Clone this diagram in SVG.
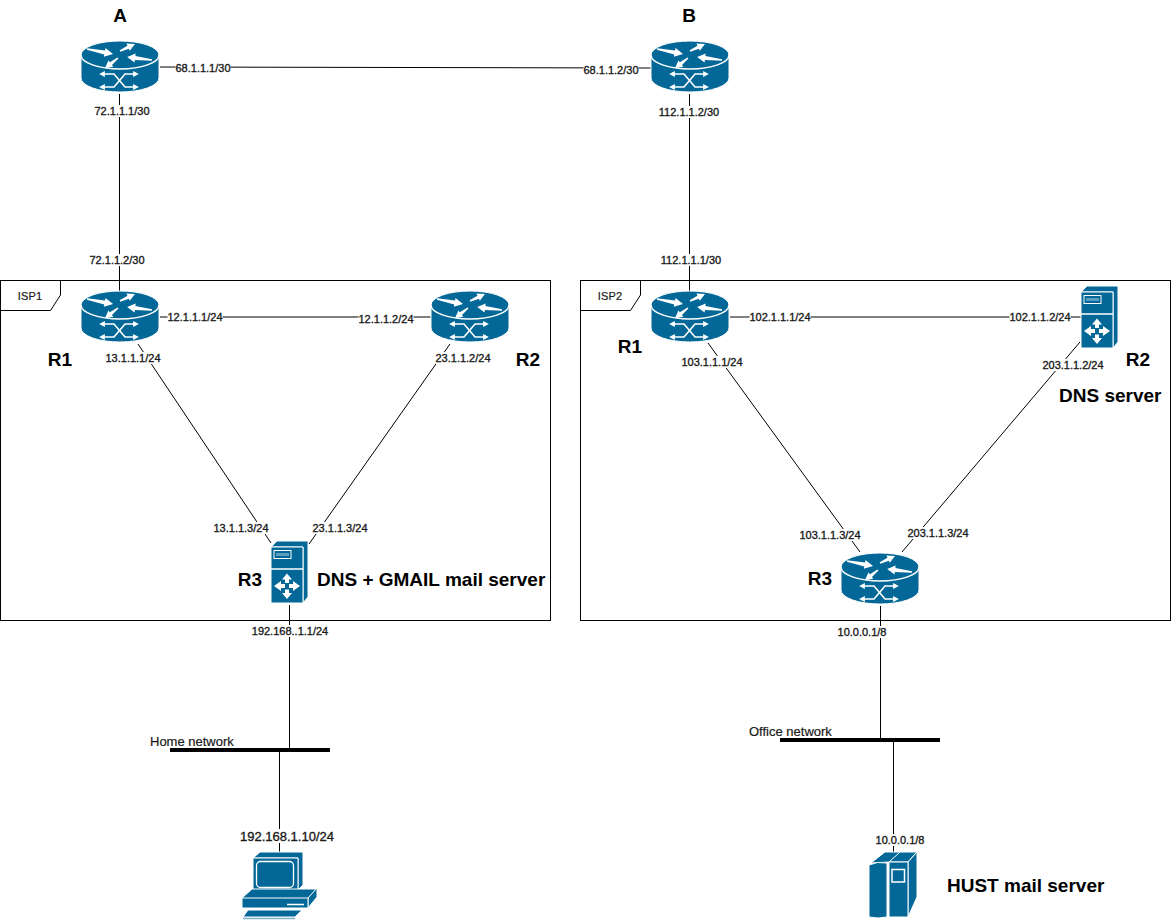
<svg xmlns="http://www.w3.org/2000/svg" width="1171" height="922" viewBox="0 0 1171 922">
<style>
text{font-family:"Liberation Sans",Arial,sans-serif;fill:#1a1a1a}
.l{font-size:11px;text-anchor:middle;stroke:#1a1a1a;stroke-width:.35px;dominant-baseline:central}
.big{font-size:13px}
.bg{fill:#fff;stroke:none}
.t{font-size:19px;font-weight:bold;fill:#000;dominant-baseline:central}
.m{text-anchor:middle}
.n{font-size:11px;dominant-baseline:central;stroke:#1a1a1a;stroke-width:.2px}
.o{font-size:13px}
.c{fill:none;stroke:#000;stroke-width:1}
.bus{fill:none;stroke:#000;stroke-width:4}
.box{fill:#fff;stroke:#000;stroke-width:1}
.b{fill:#036897;stroke:#fff;stroke-width:1}
.w{fill:none;stroke:#fff;stroke-width:1.5}
.wf{fill:#fff;stroke:none}
.x{fill:none;stroke:#fff;stroke-width:1.6;marker-start:url(#hs);marker-end:url(#hs)}
</style>
<defs>
<marker id="hs" viewBox="0 0 10 10" refX="5" refY="5" markerWidth="3.600" markerHeight="3.600" orient="auto-start-reverse"><path d="M0,0L10,5L0,10Z" fill="#fff"/></marker>
<g id="router">
<path class="b" d="M0,14V37A39,14 0 0 0 78,37V14A39,14 0 0 0 0,14Z"/>
<path class="w" d="M0,14A39,14 0 0 0 78,14"/>
<path class="wf" transform="translate(6,8) rotate(11)" d="M0,-.8L18,-2V-4.500L26.500,0L18,4.500V2L0,.8Z"/>
<path class="wf" transform="translate(39,10) rotate(-25)" d="M0,-.7L9,-1.700V-4L16.500,0L9,4V1.700L0,.7Z"/>
<path class="wf" transform="translate(71,19) rotate(187)" d="M0,-.8L17,-2V-4.500L25,0L17,4.500V2L0,.8Z"/>
<path class="wf" transform="translate(37,17) rotate(142)" d="M0,-.7L9,-1.700V-4L16.500,0L9,4V1.700L0,.7Z"/>
<path class="x" d="M21,33H33L44,46H55"/>
<path class="x" d="M21,46H33L44,33H55"/>
</g>
<g id="server">
<path class="b" d="M0,6L6,0H37V56L32,62V6Z"/>
<path class="b" d="M0,6H32V62H0Z"/>
<path class="w" d="M0,28H32"/>
<rect x="3" y="9.500" width="17" height="8" fill="none" stroke="#fff" stroke-width="1"/>
<rect x="5" y="12" width="13" height="3" fill="#5a9fc0"/>
<path class="wf" d="M16,32.500L21,38.500H18V42H14V38.500H11Z"/>
<path class="wf" d="M16,58L21,52H18V48.500H14V52H11Z"/>
<path class="wf" d="M3,45L10,40V43H14V47H10V50Z"/>
<path class="wf" d="M29,45L22,40V43H18V47H22V50Z"/>
</g>
</defs>

<g id="isp1">
<rect class="box" x="0.500" y="280.500" width="550" height="340"/>
<path class="c" d="M0.500,310.500H50.500L60.500,295V280.500"/>
<text class="n m" x="30" y="296" style="letter-spacing:.2px">ISP1</text>
</g>
<g id="isp2">
<rect class="box" x="580.500" y="280.500" width="590" height="340"/>
<path class="c" d="M580.500,310.500H630.500L640.500,295V280.500"/>
<text class="n m" x="610" y="296" style="letter-spacing:.2px">ISP2</text>
</g>

<g id="connectors">
<path class="c" d="M160,67L651,68"/>
<path class="c" d="M119.500,94V292"/>
<path class="c" d="M689.500,94V292"/>
<path class="c" d="M160,317L431,317"/>
<path class="c" d="M138,344L271,543"/>
<path class="c" d="M450,344L309,544"/>
<path class="c" d="M289.500,605V749"/>
<path class="c" d="M279.500,750V852"/>
<path class="c" d="M730,317H1081"/>
<path class="c" d="M708,343L860,552"/>
<path class="c" d="M1080,342L902,552"/>
<path class="c" d="M880.500,606V740"/>
<path class="c" d="M893.500,740V852"/>
<path class="bus" d="M170,750H330"/>
<path class="bus" d="M780,740H940"/>
<rect class="bg" x="175.500" y="62" width="55" height="12"/><text class="l" x="203" y="68">68.1.1.1/30</text>
<rect class="bg" x="583.500" y="64" width="55" height="12"/><text class="l" x="611" y="70">68.1.1.2/30</text>
<rect class="bg" x="94.500" y="105" width="55" height="12"/><text class="l" x="122" y="111">72.1.1.1/30</text>
<rect class="bg" x="89.500" y="254" width="55" height="12"/><text class="l" x="117" y="260">72.1.1.2/30</text>
<rect class="bg" x="658.500" y="106" width="61" height="12"/><text class="l" x="689" y="112">112.1.1.2/30</text>
<rect class="bg" x="660.500" y="254" width="61" height="12"/><text class="l" x="691" y="260">112.1.1.1/30</text>
<rect class="bg" x="167.500" y="311" width="55" height="12"/><text class="l" x="195" y="317">12.1.1.1/24</text>
<rect class="bg" x="358.500" y="313" width="55" height="12"/><text class="l" x="386" y="319">12.1.1.2/24</text>
<rect class="bg" x="105.500" y="352" width="55" height="12"/><text class="l" x="133" y="358">13.1.1.1/24</text>
<rect class="bg" x="435.500" y="352" width="55" height="12"/><text class="l" x="463" y="358">23.1.1.2/24</text>
<rect class="bg" x="213.500" y="522" width="55" height="12"/><text class="l" x="241" y="528">13.1.1.3/24</text>
<rect class="bg" x="312.500" y="522" width="55" height="12"/><text class="l" x="340" y="528">23.1.1.3/24</text>
<rect class="bg" x="252" y="625" width="76" height="12"/><text class="l" x="290" y="631">192.168..1.1/24</text>
<rect class="bg" x="240" y="829" width="94" height="14"/><text class="l big" x="287" y="836">192.168.1.10/24</text>
<rect class="bg" x="749.500" y="311" width="61" height="12"/><text class="l" x="780" y="317">102.1.1.1/24</text>
<rect class="bg" x="1009.500" y="311" width="61" height="12"/><text class="l" x="1040" y="317">102.1.1.2/24</text>
<rect class="bg" x="681.500" y="356" width="61" height="12"/><text class="l" x="712" y="362">103.1.1.1/24</text>
<rect class="bg" x="1042.500" y="359" width="61" height="12"/><text class="l" x="1073" y="365">203.1.1.2/24</text>
<rect class="bg" x="799.500" y="529" width="61" height="12"/><text class="l" x="830" y="535">103.1.1.3/24</text>
<rect class="bg" x="907.500" y="527" width="61" height="12"/><text class="l" x="938" y="533">203.1.1.3/24</text>
<rect class="bg" x="837.500" y="626" width="49" height="12"/><text class="l" x="862" y="632">10.0.0.1/8</text>
<rect class="bg" x="875.500" y="834" width="49" height="12"/><text class="l" x="900" y="840">10.0.0.1/8</text>
<text class="n o" x="150" y="741">Home network</text>
<text class="n o" x="749" y="731">Office network</text>
</g>

<g id="node-a"><use href="#router" x="81" y="41"/><text class="t m" x="120" y="15">A</text></g>
<g id="node-b"><use href="#router" x="651" y="41"/><text class="t m" x="689" y="15">B</text></g>
<g id="isp1-r1"><use href="#router" x="81" y="291"/><text class="t m" x="60" y="359">R1</text></g>
<g id="isp1-r2"><use href="#router" x="431" y="291"/><text class="t m" x="528" y="359">R2</text></g>
<g id="isp1-r3"><use href="#server" x="271" y="541"/><text class="t m" x="250" y="579">R3</text><text class="t" x="317" y="579">DNS + GMAIL mail server</text></g>
<g id="isp2-r1"><use href="#router" x="651" y="291"/><text class="t m" x="630" y="346">R1</text></g>
<g id="isp2-r2"><use href="#server" x="1081" y="286"/><text class="t m" x="1138" y="359">R2</text><text class="t" x="1059" y="395">DNS server</text></g>
<g id="isp2-r3"><use href="#router" x="841" y="553"/><text class="t m" x="820" y="578">R3</text></g>

<g id="pc">
<path class="b" d="M253,858L260,852H303V885L298,890V858Z"/>
<path class="b" d="M253,858H298V890H253Z"/>
<rect x="256.500" y="861.500" width="37" height="26" rx="4" fill="#036897" stroke="#fff" stroke-width="1.300"/>
<path class="b" d="M242,898L252,889H317L308,898V908H242Z"/>
<path class="b" d="M308,898L317,888V897L308,908Z"/>
<path class="b" d="M242,898H308V908H242Z"/>
<path d="M287,904.500H304" stroke="#fff" stroke-width="1.500"/>
<path class="b" d="M248,910H302L295,917H243Z"/>
<path d="M243,918.500H295" stroke="#7fb3cb" stroke-width="1.500"/>
</g>
<g id="mail-server">
<path class="b" d="M871,863L885,852H917L908,862H889Z"/>
<path class="b" d="M908,862L917,852V897L908,917Z"/>
<path class="b" d="M889,862H908V917H889Z"/>
<path class="b" d="M869,865Q877,861 887,863V917Q878,919 869,917Z"/>
<rect x="892" y="869.500" width="12.500" height="12.500" fill="#036897" stroke="#fff" stroke-width="1.500"/>
<path d="M900,852L889,862" stroke="#fff" stroke-width="1" fill="none"/>
<text class="t" x="947" y="885">HUST mail server</text>
</g>
</svg>
